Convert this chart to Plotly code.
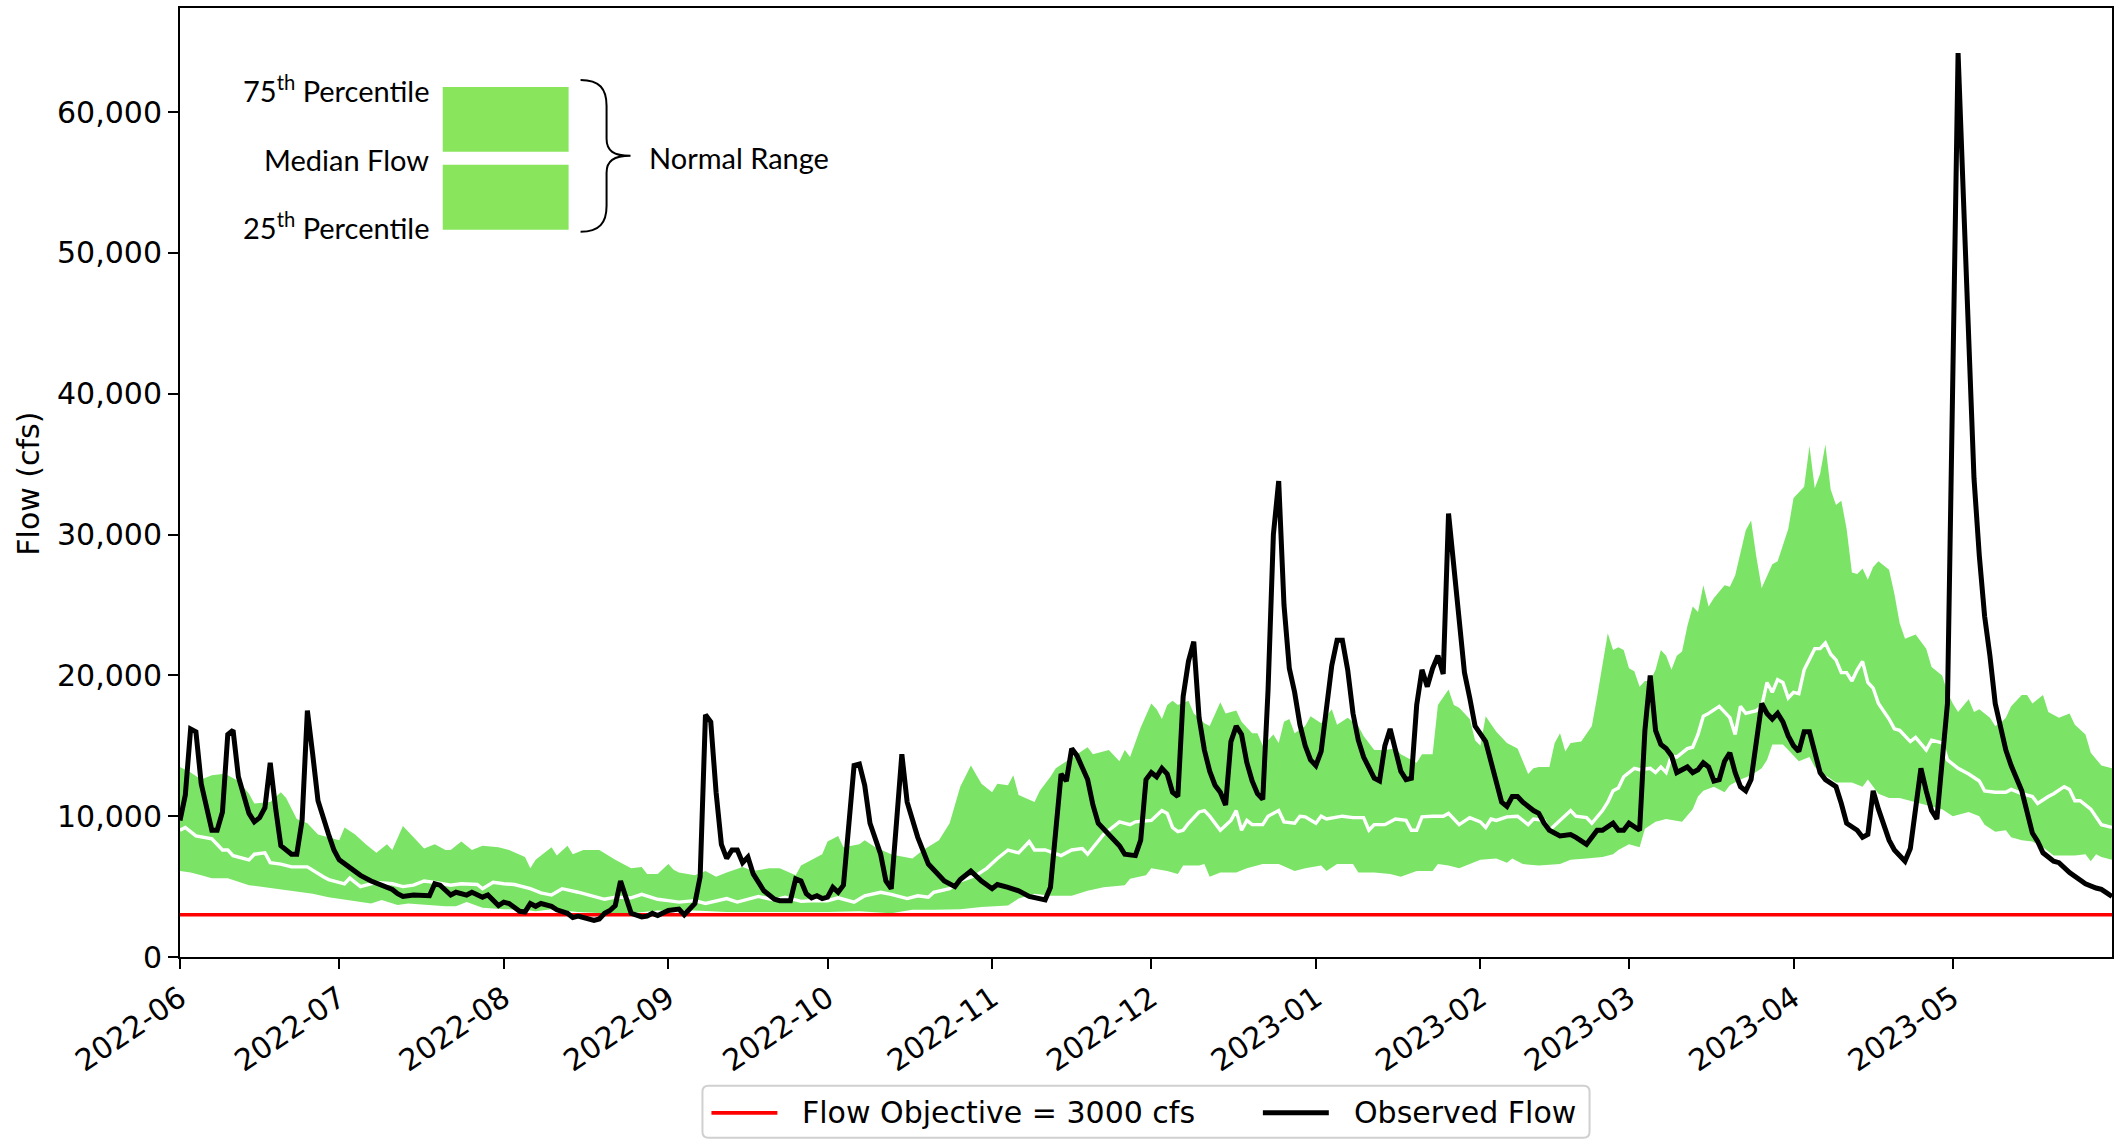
import pandas as pd
import plotly.graph_objects as go

# ---------------------------------------------------------------------------
# Data: day offsets from 2022-06-01 and flows in thousands of cfs
# ---------------------------------------------------------------------------
START_DATE = "2022-06-01"
END_DATE = "2023-05-31"
FLOW_OBJECTIVE = 3000

obs_day = [
    0, 1, 2, 3, 4, 6, 7, 8, 9, 10, 11, 13, 14, 15, 16, 17, 18, 19, 21, 22, 23, 24, 25, 26, 28, 29,
    30, 32, 34, 36, 38, 40, 41, 42, 44, 46, 47, 48, 49, 51, 52, 54, 55, 57, 58, 60,
    61, 62, 64, 65, 66, 67, 68, 70, 71, 73, 74, 75, 76, 78, 79, 80, 81, 82, 83, 84, 85, 87, 88, 89, 90,
    92, 93, 94, 95, 96, 97, 98, 99, 100, 101, 102, 103, 104, 105, 106, 107, 108, 110, 112, 113, 115,
    116, 117, 118, 119, 120, 121,
    122, 123, 124, 125, 127, 128, 129, 130, 132, 133, 134, 135, 136, 137, 139, 141, 144, 146, 147,
    149, 151,
    153, 154, 156, 158, 160, 163, 164, 165, 166, 167, 168, 169, 171, 172, 173, 175, 177, 178, 180,
    181, 182,
    183, 184, 185, 186, 187, 188, 189, 190, 191, 192, 193, 194, 195, 196, 197, 198, 199, 200, 201,
    202, 203, 204, 205, 206, 207, 208, 209, 210, 211, 212, 213,
    214, 215, 216, 217, 218, 219, 220, 221, 222, 223, 225, 226, 227, 228, 229, 230, 231, 232, 233,
    234, 235, 236, 237, 238, 239, 240, 241, 242, 243, 244,
    246, 247, 249, 250, 251, 252, 253, 255, 256, 257, 258, 260, 262, 263, 264, 265, 267, 268, 270,
    271, 272,
    273, 275, 276, 277, 278, 279, 280, 281, 282, 284, 285, 286, 287, 288, 289, 290, 291, 292, 293,
    294, 295, 296, 297, 298, 299, 300, 301, 302, 303,
    304, 305, 306, 307, 308, 309, 310, 312, 313, 314, 316, 317, 318, 319, 320, 321, 322, 323, 325,
    326, 327, 328, 329, 330, 331, 332, 333,
    334, 335, 336, 337, 338, 339, 340, 341, 342, 344, 345, 347, 348, 349, 350, 351, 353, 354, 356,
    357, 359, 361, 362, 363, 364,
]
obs_kcfs = [
    9.7, 11.5, 16.2, 16.0, 12.3, 9.0, 9.0, 10.3, 15.8, 16.1, 12.8, 10.2, 9.6, 9.9, 10.6, 13.8, 10.6,
    7.9, 7.3, 7.3, 9.7, 17.5, 14.4, 11.1, 8.7, 7.6,
    6.9, 6.3, 5.8, 5.4, 5.1, 4.8, 4.5, 4.3, 4.4, 4.35, 4.35, 5.2, 5.1, 4.4, 4.6, 4.4, 4.6, 4.25, 4.4,
    3.65,
    3.9, 3.8, 3.25, 3.2, 3.8, 3.6, 3.8, 3.6, 3.35, 3.1, 2.8, 2.9, 2.8, 2.6, 2.7, 3.1, 3.3, 3.65, 5.4,
    4.1, 3.1, 2.85, 2.9, 3.1, 2.95,
    3.3, 3.35, 3.4, 3.0, 3.4, 3.8, 5.7, 17.2, 16.7, 11.7, 8.0, 7.0, 7.6, 7.6, 6.7, 7.1, 5.9, 4.7,
    4.1, 4.0, 4.0,
    5.55, 5.4, 4.5, 4.2, 4.35, 4.15,
    4.25, 4.95, 4.6, 5.1, 13.6, 13.7, 12.2, 9.5, 7.3, 5.4, 4.85, 9.6, 14.4, 11.0, 8.5, 6.6, 5.4,
    5.0, 5.5, 6.1, 5.4,
    4.85, 5.15, 4.95, 4.7, 4.3, 4.05, 4.95, 9.0, 13.0, 12.5, 14.8, 14.3, 12.6, 10.8, 9.5, 8.7, 7.9,
    7.3, 7.2, 8.3, 12.6,
    13.1, 12.8, 13.4, 13.0, 11.7, 11.4, 18.5, 21.0, 22.4, 17.0, 14.7, 13.2, 12.2, 11.7, 10.8, 15.3,
    16.4, 15.8, 13.8, 12.5, 11.6, 11.2, 19.0, 30.0, 33.8, 25.0, 20.5, 18.8, 16.5, 15.0, 14.0,
    13.6, 14.6, 17.5, 20.7, 22.5, 22.5, 20.4, 17.3, 15.4, 14.2, 12.7, 12.5, 15.0, 16.2, 14.7, 13.2,
    12.6, 12.7, 17.9, 20.4, 19.2, 20.5, 21.4, 20.1, 31.5, 27.6, 24.0, 20.2, 18.4, 16.4,
    15.3, 13.8, 11.0, 10.7, 11.4, 11.4, 11.0, 10.4, 10.2, 9.5, 9.0, 8.6, 8.7, 8.5, 8.2, 8.0, 9.0,
    9.0, 9.5, 9.0, 9.0,
    9.5, 9.0, 16.1, 20.0, 16.1, 15.1, 14.8, 14.3, 13.1, 13.5, 13.1, 13.3, 13.8, 13.5, 12.5, 12.6,
    13.9, 14.5, 13.1, 12.1, 11.8, 12.6, 15.3, 18.0, 17.3, 16.9, 17.3, 16.7, 15.7,
    15.0, 14.6, 16.0, 16.0, 14.4, 13.1, 12.6, 12.1, 10.9, 9.5, 9.0, 8.5, 8.7, 11.8, 10.5, 9.3, 8.3,
    7.6, 6.8, 7.7, 10.5, 13.4, 11.8, 10.4, 9.8, 14.0, 18.0,
    41.0, 64.2, 54.0, 44.5, 34.0, 28.5, 24.2, 21.4, 18.0, 14.7, 13.6, 11.8, 10.3, 8.8, 8.2, 7.4,
    6.8, 6.7, 6.0, 5.7, 5.2, 4.9, 4.8, 4.55, 4.3,
]

p25_day = [
    0, 2, 4, 6, 9, 13, 17, 21, 25, 28, 32, 36, 38, 41, 43, 46, 50, 52, 54, 57, 61, 65, 67, 70, 72,
    75, 80, 85, 90, 97, 103, 109, 115, 122, 128, 134, 138, 142, 147, 151, 156, 158, 161, 164, 168,
    171, 174, 178, 179, 182, 183, 184, 186, 188, 189, 192, 193, 194, 196, 199, 201, 204, 207, 210,
    212, 215, 216, 218, 221, 222, 225, 228, 230, 233, 236, 237, 239, 241, 245, 248, 250, 251, 253,
    256, 260, 262, 265, 268, 270, 271, 273, 275, 276, 278, 280, 283, 285, 286, 287, 289, 291, 292,
    294, 296, 298, 299, 300, 302, 303, 305, 307, 308, 310, 312, 315, 317, 318, 320, 322, 324, 325,
    328, 330, 332, 334, 337, 339, 340, 342, 344, 345, 347, 349, 351, 353, 355, 357, 359, 360, 361,
    362, 364,
]
p25_kcfs = [
    6.1, 6.0, 5.8, 5.6, 5.6, 5.1, 4.85, 4.7, 4.5, 4.25, 4.0, 3.8, 4.05, 3.7, 3.8, 3.7, 3.6, 3.6,
    3.9, 3.5, 3.4, 3.35, 3.25, 3.4, 3.3,
    3.2, 3.1, 3.1, 3.3, 3.3, 3.2, 3.25, 3.2, 3.2, 3.25, 3.1, 3.35, 3.35, 3.4, 3.55, 3.65, 4.15,
    4.5, 4.35, 4.35,
    4.7, 4.95, 5.1, 5.55, 5.8, 6.3, 6.2, 6.1, 5.9, 6.5, 6.5, 6.6, 5.7, 6.0, 6.0, 6.3, 6.6, 6.6, 6.1,
    6.3, 6.5, 6.1, 6.6, 6.6, 6.0, 6.0, 5.9, 5.7, 6.1, 6.1, 6.6, 6.5, 6.3, 6.9, 7.0, 6.7, 7.0, 6.6,
    6.5, 6.6, 6.9, 7.0, 7.1, 7.3, 7.6, 8.0, 7.8, 9.1, 9.6, 9.8, 9.6, 10.5, 11.4, 11.8, 12.1, 11.7,
    12.2,
    12.6, 12.9, 13.4, 14.0, 15.1, 15.1, 14.7, 13.9, 14.2, 13.5, 12.9, 12.4, 12.4, 12.1, 12.6, 11.6,
    11.3, 11.3, 11.2,
    10.9, 10.7, 10.5, 10.0, 10.3, 10.0, 9.4, 8.9, 9.0, 8.5, 8.3, 8.2, 7.8, 7.2, 7.2, 7.2, 7.3, 6.8,
    7.3,
    7.1, 6.9,
]

p50_day = [
    0, 1, 3, 6, 8, 9, 10, 11, 13, 14, 16, 17, 19, 21, 24, 27, 28, 31, 32, 34, 37, 40, 42, 44, 46,
    48, 51, 53, 56, 57, 59, 61, 63, 66, 68, 70, 72, 75, 77, 80, 82, 85, 87, 90, 92, 94, 97, 99,
    103, 105, 109, 112, 114, 117, 119, 122, 124, 127, 129, 132, 134, 137, 139, 141, 142, 145, 147,
    150, 152, 154, 156, 158, 160, 161, 163, 166, 168, 170, 171, 174, 177, 179, 180, 182, 183, 185,
    186, 187, 188, 189, 190, 192, 193, 194, 196, 198, 199, 200, 201, 202, 204, 205, 207, 208, 210,
    211, 212, 214, 215, 216, 218, 219, 221, 223, 224, 225, 227, 229, 231, 232, 233, 234, 236, 238,
    239, 241, 243, 245, 246, 247, 248, 250, 252, 254, 255, 257, 258, 260, 262, 263, 265, 266, 267,
    268, 269, 270, 271, 272, 274, 275, 277, 278, 279, 280, 281, 282, 284, 285, 286, 287, 288, 290,
    292, 293, 294, 295, 297, 298, 299, 300, 301, 302, 303, 304, 305, 306, 308, 309, 310, 311, 312,
    313, 314, 315, 316, 317, 318, 319, 320, 322, 323, 324, 326, 327, 329, 330, 332, 333, 335, 337,
    339, 340, 342, 344, 345, 347, 349, 350, 352, 353, 355, 356, 357, 358, 360, 361, 362, 364,
]
p50_kcfs = [
    9.0, 9.2, 8.6, 8.4, 7.6, 7.6, 7.2, 7.1, 6.9, 7.3, 7.4, 6.7, 6.6, 6.4, 6.4, 5.7, 5.5, 5.2, 5.6,
    5.0, 5.3, 5.2, 5.0, 5.1, 5.4,
    5.3, 5.1, 5.2, 5.15, 4.85, 5.3, 5.2, 5.15, 4.85, 4.55, 4.4, 4.85, 4.6, 4.4, 4.1, 4.25, 4.2,
    4.45, 4.1, 4.0, 3.9, 4.0, 3.8,
    4.15, 3.9, 4.3, 4.05, 4.25, 3.95, 4.0, 4.0, 4.2, 3.9, 4.35, 4.6, 4.45, 4.15, 4.35, 4.25, 4.6,
    4.85, 5.4,
    5.8, 6.3, 7.0, 7.6, 7.4, 8.2, 7.6, 7.6, 7.2, 7.6, 7.7, 7.3, 8.7, 9.6, 9.4, 9.6, 9.7, 9.7, 10.4,
    10.2, 9.2, 8.9, 9.0, 9.5, 10.3, 10.4, 10.0, 9.0, 9.7, 10.4, 9.0, 9.7, 9.4, 9.4, 10.0, 10.4, 9.6,
    9.5,
    10.0, 9.95, 9.5, 10.0, 9.8, 9.95, 10.0, 9.9, 9.9, 9.0, 9.4, 9.4, 9.8, 9.7, 9.0, 9.0, 9.95, 10.0,
    10.0,
    10.2, 9.4, 9.9, 9.6, 9.2, 9.8, 9.7, 9.95, 10.0, 9.4, 9.8, 9.7, 9.0, 9.7, 10.4, 10.0, 9.9, 9.5,
    9.95,
    10.4, 11.0, 11.8, 12.0, 12.8, 13.4, 13.3, 13.4, 13.1, 13.5, 13.1, 14.3, 14.2, 14.8, 14.9, 15.8,
    17.1, 17.3, 17.8,
    17.0, 15.8, 17.8, 17.3, 17.5, 17.8, 19.5, 18.8, 19.7, 19.5, 18.4, 18.8, 18.7, 20.4, 21.9, 21.9,
    22.3, 21.5, 21.1,
    20.2, 20.2, 19.6, 20.4, 21.0, 19.5, 19.1, 18.0, 16.9, 16.2, 16.1, 15.3, 15.6, 14.7, 15.4, 15.2,
    14.0, 13.4, 13.0,
    12.5, 11.8, 11.7, 11.7, 11.9, 11.6, 11.4, 10.9, 11.4, 11.6, 12.1, 11.9, 11.1, 11.1, 10.5, 9.9,
    9.4, 9.2,
]

p75_day = [
    0, 2, 4, 6, 8, 9, 11, 13, 14, 17, 19, 20, 22, 24, 26, 28, 30, 31, 33, 35, 37, 39, 40, 42, 44,
    46, 48, 50, 51, 53, 55, 57, 60, 62, 65, 66, 67, 70, 71, 73, 74, 76, 79, 82, 85, 87, 88, 90, 92,
    93, 94, 97, 99, 101, 103, 106, 108, 111, 113, 115, 116, 117, 119, 121, 122, 124, 125, 128, 129,
    131, 134, 135, 138, 140, 143, 145, 147, 149, 151, 153, 154, 156, 157, 158, 161, 162, 164, 165,
    167, 169, 171, 172, 175, 177, 178, 179, 181, 183, 184, 185, 186, 187, 188, 190, 191, 193, 194,
    196, 197, 199, 200, 202, 203, 204, 206, 207, 208, 209, 210, 212, 213, 215, 217, 218, 220, 222,
    223, 225, 227, 229, 230, 233, 234, 236, 237, 239, 240, 241, 243, 244, 245, 246, 248, 250, 251,
    252, 254, 255, 256, 258, 259, 260, 261, 262, 264, 266, 267, 268, 269, 270, 271, 272, 273, 274,
    275, 276, 277, 278, 279, 280, 281, 282, 283, 284, 285, 286, 287, 288, 289, 291, 292, 293, 295,
    296, 297, 298, 300, 301, 303, 304, 306, 307, 308, 309, 310, 311, 312, 313, 314, 315, 316, 317,
    318, 319, 320, 322, 323, 324, 325, 327, 329, 330, 332, 333, 334, 335, 337, 338, 339, 341, 342,
    343, 344, 345, 347, 348, 349, 351, 352, 354, 356, 357, 359, 360, 362, 364,
]
p75_kcfs = [
    13.5, 13.1, 12.6, 12.9, 13.0, 12.9, 12.5, 11.6, 10.9, 11.0, 11.7, 11.3, 9.8, 9.5, 8.7, 8.5,
    8.3, 9.2, 8.7, 8.0, 7.4, 8.0, 7.6, 9.3, 8.5,
    7.7, 8.0, 7.6, 7.6, 8.2, 7.6, 7.9, 7.8, 7.6, 7.1, 6.3, 6.9, 7.8, 7.2, 7.9, 7.3, 7.6, 7.6, 6.9,
    6.3, 6.4, 5.9, 5.9, 6.6,
    6.2, 6.0, 5.8, 6.1, 5.7, 6.0, 6.4, 6.1, 6.3, 6.3, 6.0, 5.8, 6.5, 6.9, 7.3, 8.2, 8.6, 7.8, 8.0,
    8.3,
    7.8, 7.3, 7.2, 7.0, 7.6, 8.3, 9.5, 12.1, 13.6, 12.3, 11.7, 12.3, 12.2, 12.9, 11.5, 11.0, 11.8,
    12.8, 13.4,
    13.9, 14.4, 14.9, 14.4, 14.7, 13.9, 14.7, 14.2, 16.3, 18.0, 17.6, 16.9, 17.9, 18.2, 17.9, 18.2,
    17.3, 16.6, 16.4,
    18.1, 17.3, 17.5, 16.7, 15.9, 15.9, 15.0, 15.8, 15.2, 16.7, 16.9, 15.9, 16.4, 17.1, 16.6, 17.6,
    16.5, 17.0, 16.4,
    15.7, 14.7, 14.7, 14.8, 14.4, 13.8, 14.4, 14.4, 17.9, 19.0, 17.9, 17.7, 16.9, 15.4, 15.0, 17.1,
    16.0, 15.2, 15.0,
    14.8, 13.0, 13.4, 13.5, 13.5, 15.2, 15.9, 14.6, 15.2, 15.3, 16.4, 18.5, 20.9, 23.0, 21.8, 22.0,
    21.8, 20.5, 20.3,
    19.2, 19.6, 19.6, 20.4, 21.8, 21.4, 20.4, 21.4, 21.7, 23.5, 24.9, 24.5, 26.4, 24.9, 25.5, 26.4,
    26.3, 27.1, 30.3,
    31.0, 28.4, 26.2, 27.9, 28.1, 30.4, 32.6, 33.4, 36.3, 33.3, 34.3, 36.4, 33.2, 32.1, 32.4, 30.4,
    27.3, 27.2, 27.6,
    26.8, 27.7, 28.1, 27.5, 25.8, 23.7, 22.6, 22.9, 21.9, 20.6, 20.0, 18.8, 18.0, 17.4, 18.3, 17.4,
    17.6, 17.0, 16.4,
    16.6, 17.0, 17.8, 18.6, 18.6, 18.0, 18.6, 17.4, 17.0, 17.3, 16.5, 15.8, 14.5, 13.6, 13.4,
]

# ---------------------------------------------------------------------------
# Helpers
# ---------------------------------------------------------------------------
start = pd.Timestamp(START_DATE)


def to_dates(days):
    return start + pd.to_timedelta(days, unit="D")


def to_cfs(values):
    return [v * 1000 for v in values]


W, H = 2120, 1140
PLOT_L, PLOT_R, PLOT_T, PLOT_B = 180, 2114, 7, 957


def px(x):
    return (x - PLOT_L) / (PLOT_R - PLOT_L)


def py(y):
    return (PLOT_B - y) / (PLOT_B - PLOT_T)


BAND_GREEN = "#7be467"
KEY_GREEN = "#88e55c"
TICK_FONT = dict(family="DejaVu Sans", size=30, color="black")
KEY_FONT = dict(family="Lato", size=29, color="black")

obs_dates = to_dates(obs_day)
p25_dates = to_dates(p25_day)
p50_dates = to_dates(p50_day)
p75_dates = to_dates(p75_day)

fig = go.Figure()

# Normal range band (25th to 75th percentile)
band_x = list(p75_dates) + list(p25_dates[::-1])
band_y = to_cfs(p75_kcfs) + to_cfs(p25_kcfs[::-1])
fig.add_trace(go.Scatter(
    x=band_x, y=band_y, mode="lines", fill="toself", fillcolor=BAND_GREEN,
    line=dict(width=0, color=BAND_GREEN), hoverinfo="skip", showlegend=False,
))

# Median flow
fig.add_trace(go.Scatter(
    x=p50_dates, y=to_cfs(p50_kcfs), mode="lines",
    line=dict(color="white", width=3.4), name="Median Flow", showlegend=False,
))

# Flow objective
fig.add_trace(go.Scatter(
    x=[pd.Timestamp(START_DATE), pd.Timestamp(END_DATE)],
    y=[FLOW_OBJECTIVE, FLOW_OBJECTIVE], mode="lines",
    line=dict(color="#ff0000", width=3.6), name="Flow Objective = 3000 cfs",
    showlegend=False,
))

# Observed flow
fig.add_trace(go.Scatter(
    x=obs_dates, y=to_cfs(obs_kcfs), mode="lines",
    line=dict(color="black", width=5), name="Observed Flow", showlegend=False,
))

shapes = []
annotations = []

# --- Normal-range key in the upper left ---------------------------------
for y0, y1 in [(86, 151), (164, 229)]:
    shapes.append(dict(
        type="rect", xref="paper", yref="paper",
        x0=px(443), x1=px(569), y0=py(y1), y1=py(y0),
        fillcolor=KEY_GREEN, line=dict(width=0),
    ))

brace_pts = [
    ("M", [(581, 79)]),
    ("C", [(600, 79), (607, 88), (607, 105)]),
    ("L", [(607, 138)]),
    ("C", [(607, 150), (614, 155), (631, 155)]),
    ("C", [(614, 155), (607, 160), (607, 172)]),
    ("L", [(607, 205)]),
    ("C", [(607, 222), (600, 231), (581, 231)]),
]
brace_path = " ".join(
    cmd + " " + " ".join(f"{px(x):.5f},{py(y):.5f}" for x, y in pts)
    for cmd, pts in brace_pts
)
shapes.append(dict(
    type="path", xref="paper", yref="paper", path=brace_path,
    line=dict(color="black", width=2),
))

key_labels = [
    ("75<sup>th</sup> Percentile", 88),
    ("Median Flow", 159),
    ("25<sup>th</sup> Percentile", 225),
]
for text, yc in key_labels:
    annotations.append(dict(
        x=px(431), y=py(yc), xref="paper", yref="paper", text=text,
        showarrow=False, xanchor="right", yanchor="middle", font=KEY_FONT,
    ))
annotations.append(dict(
    x=px(647), y=py(157), xref="paper", yref="paper", text="Normal Range",
    showarrow=False, xanchor="left", yanchor="middle", font=KEY_FONT,
))

# --- Y-axis title --------------------------------------------------------
annotations.append(dict(
    x=px(28), y=py(483), xref="paper", yref="paper", text="Flow (cfs)",
    showarrow=False, textangle=-90, xanchor="center", yanchor="middle",
    font=TICK_FONT,
))

# --- Legend below the axes -------------------------------------------------
lx0, lx1, ly0, ly1, r = 703, 1591, 1086, 1138, 6
legend_box = (
    f"M {px(lx0 + r)},{py(ly0)} L {px(lx1 - r)},{py(ly0)} "
    f"Q {px(lx1)},{py(ly0)} {px(lx1)},{py(ly0 + r)} L {px(lx1)},{py(ly1 - r)} "
    f"Q {px(lx1)},{py(ly1)} {px(lx1 - r)},{py(ly1)} L {px(lx0 + r)},{py(ly1)} "
    f"Q {px(lx0)},{py(ly1)} {px(lx0)},{py(ly1 - r)} L {px(lx0)},{py(ly0 + r)} "
    f"Q {px(lx0)},{py(ly0)} {px(lx0 + r)},{py(ly0)} Z"
)
shapes.append(dict(
    type="path", xref="paper", yref="paper", path=legend_box,
    fillcolor="white", line=dict(color="#d0d0d0", width=2),
))
legend_entries = [
    ("Flow Objective = 3000 cfs", "#ff0000", 3.6, 712, 778, 801),
    ("Observed Flow", "black", 5, 1264, 1330, 1353),
]
for text, color, width, sx0, sx1, tx in legend_entries:
    shapes.append(dict(
        type="line", xref="paper", yref="paper",
        x0=px(sx0), x1=px(sx1), y0=py(1113), y1=py(1113),
        line=dict(color=color, width=width),
    ))
    annotations.append(dict(
        x=px(tx), y=py(1113), xref="paper", yref="paper", text=text,
        showarrow=False, xanchor="left", yanchor="middle", font=TICK_FONT,
    ))

fig.update_layout(
    width=W, height=H, autosize=False,
    margin=dict(l=PLOT_L, r=W - PLOT_R, t=PLOT_T, b=H - PLOT_B, pad=0),
    paper_bgcolor="white", plot_bgcolor="white",
    showlegend=False, shapes=shapes, annotations=annotations,
    font=TICK_FONT,
)
fig.update_xaxes(
    type="date", range=[START_DATE, END_DATE],
    tickmode="linear", tick0=START_DATE, dtick="M1", tickformat="%Y-%m",
    tickangle=-34, tickfont=TICK_FONT,
    showgrid=False, zeroline=False,
    showline=True, linecolor="black", linewidth=2, mirror=True,
    ticks="outside", ticklen=10, tickwidth=2, tickcolor="black",
)
fig.update_yaxes(
    range=[0, 67400], tickmode="array",
    tickvals=[0, 10000, 20000, 30000, 40000, 50000, 60000],
    tickformat=",d", tickfont=TICK_FONT,
    showgrid=False, zeroline=False,
    showline=True, linecolor="black", linewidth=2, mirror=True,
    ticks="outside", ticklen=10, tickwidth=2, tickcolor="black",
)

fig.write_html("out.html")
